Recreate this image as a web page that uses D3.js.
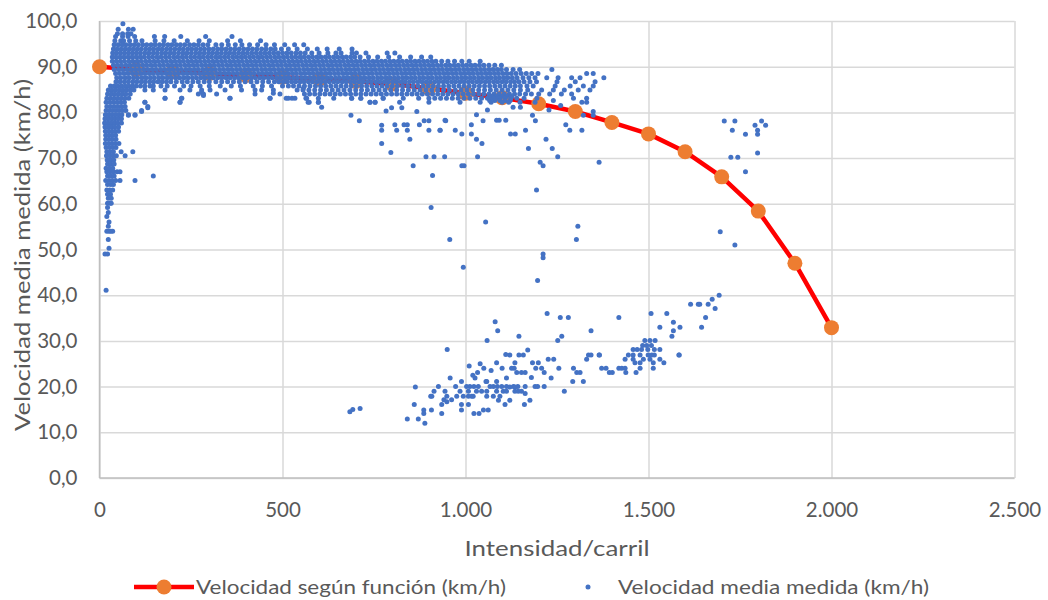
<!DOCTYPE html>
<meta charset="UTF-8">

<head>
    <title>Velocidad - Intensidad</title>
</head>
<style>
    body {
        margin: 0;
        background: #fff;
    }

    text {
        font-family: Lato, "Open Sans", sans-serif;
        fill: #595959;
    }
</style>

<body>
    <div id="chart"></div>

    <script src="https://cdn.jsdelivr.net/npm/d3@7"></script>
    <script>
        // curva de la función (cada 100 veh/h/carril)
        const fnFlow = [0, 100, 200, 300, 400, 500, 600, 700, 800, 900, 1000, 1100, 1200, 1300, 1400, 1500, 1600, 1700, 1800, 1900, 2000];
        const fnSpeed = [90, 89.4, 88.9, 88.5, 88.1, 87.7, 87.3, 86.8, 86.2, 85.3, 84.2, 83.2, 81.9, 80.2, 77.8, 75.3, 71.4, 65.9, 58.4, 47.0, 32.9];

        // banda de flujo libre: [velocidad, [intensidades]]
        const freeFlowRows = [
            [99.4, [64]],
            [98.2, [51, 79, 92]],
            [97.2, [49, 63, 77, 86]],
            [96.6, [44, 63, 78, 96, 150, 178, 222, 290, 362]],
            [95.7, [42, 58, 66, 82, 99, 116, 152, 176, 204, 240, 272, 300, 350, 385, 440]],
            [94.8, [40, 51, 62, 72, 84, 95, 106, 118, 129, 141, 152, 164, 175, 187, 198, 210, 221, 233, 246, 258, 270, 283, 296, 318, 334, 352, 371, 389, 410, 432, 455, 478, 506, 533, 558]],
            [93.9, [38, 48, 59, 70, 81, 92, 103, 114, 126, 137, 148, 160, 171, 183, 194, 206, 218, 229, 241, 252, 264, 276, 287, 299, 311, 323, 334, 346, 358, 370, 382, 394, 406, 418, 430, 443, 455, 468, 480, 497, 516, 540, 568, 595, 622, 655, 690]],
            [93.0, [36, 46, 57, 68, 79, 90, 101, 112, 124, 135, 147, 158, 170, 181, 193, 204, 216, 228, 239, 251, 263, 274, 286, 298, 309, 321, 333, 345, 356, 368, 380, 392, 404, 416, 428, 440, 452, 464, 476, 488, 500, 512, 524, 537, 549, 562, 580, 600, 624, 646, 660, 690, 702, 728, 786, 807]],
            [92.1, [35, 45, 56, 67, 78, 89, 100, 111, 122, 134, 145, 157, 168, 180, 191, 203, 214, 226, 237, 249, 260, 272, 283, 295, 306, 318, 329, 341, 352, 364, 375, 387, 398, 410, 421, 433, 444, 456, 467, 479, 490, 502, 513, 525, 536, 548, 559, 571, 582, 594, 605, 617, 628, 640, 651, 663, 674, 686, 697, 712, 735, 760, 790, 820, 850, 880, 905]],
            [91.2, [35, 46, 57, 68, 80, 91, 103, 114, 126, 137, 149, 160, 172, 183, 195, 206, 218, 229, 241, 252, 264, 275, 287, 298, 310, 321, 333, 344, 356, 367, 379, 390, 402, 413, 425, 436, 448, 459, 471, 482, 494, 505, 517, 528, 540, 551, 563, 574, 586, 597, 609, 620, 632, 643, 655, 666, 678, 689, 701, 712, 724, 735, 747, 758, 770, 781, 793, 804, 816, 827, 839, 850, 862, 873, 885, 896, 908, 919, 935, 952, 970, 990, 1010, 1040]],
            [90.3, [38, 49, 60, 72, 83, 95, 106, 118, 129, 141, 152, 164, 175, 187, 198, 210, 221, 233, 244, 256, 267, 279, 290, 302, 313, 325, 336, 348, 359, 371, 382, 394, 405, 417, 428, 440, 451, 463, 474, 486, 497, 509, 520, 532, 543, 555, 566, 578, 589, 601, 612, 624, 635, 647, 658, 670, 681, 693, 704, 716, 727, 739, 750, 762, 773, 785, 796, 808, 819, 831, 842, 854, 865, 877, 888, 900, 911, 923, 934, 946, 957, 969, 980, 992, 1003, 1015, 1026, 1038, 1050, 1064, 1080, 1098]],
            [89.4, [40, 52, 63, 75, 86, 98, 109, 121, 132, 144, 155, 167, 178, 190, 201, 213, 224, 236, 247, 259, 270, 282, 293, 305, 316, 328, 339, 351, 362, 374, 385, 397, 408, 420, 431, 443, 454, 466, 477, 489, 500, 512, 523, 535, 546, 558, 569, 581, 592, 604, 615, 627, 638, 650, 661, 673, 684, 696, 707, 719, 730, 742, 753, 765, 776, 788, 799, 811, 822, 834, 845, 857, 868, 880, 891, 903, 914, 926, 937, 949, 960, 972, 983, 995, 1006, 1018, 1029, 1041, 1052, 1064, 1075, 1087, 1098, 1112, 1130, 1148, 1236]],
            [88.5, [44, 55, 67, 78, 90, 101, 113, 124, 136, 147, 159, 170, 182, 193, 205, 216, 228, 239, 251, 262, 274, 285, 297, 308, 320, 331, 343, 354, 366, 377, 389, 400, 412, 423, 435, 446, 458, 469, 481, 492, 504, 515, 527, 538, 550, 561, 573, 584, 596, 607, 619, 630, 642, 653, 665, 676, 688, 699, 711, 722, 734, 745, 757, 768, 780, 791, 803, 814, 826, 837, 849, 860, 872, 883, 895, 906, 918, 929, 941, 952, 964, 975, 987, 998, 1010, 1021, 1033, 1044, 1056, 1067, 1079, 1090, 1102, 1113, 1125, 1138, 1152, 1166, 1181, 1198, 1331, 1349]],
            [87.6, [47, 58, 70, 81, 93, 104, 116, 127, 139, 150, 162, 173, 185, 196, 208, 219, 231, 242, 254, 265, 277, 288, 300, 311, 323, 334, 346, 357, 369, 380, 392, 403, 415, 426, 438, 449, 461, 472, 484, 495, 507, 518, 530, 541, 553, 564, 576, 587, 599, 610, 622, 633, 645, 656, 668, 679, 691, 702, 714, 725, 737, 748, 760, 771, 783, 794, 806, 817, 829, 840, 852, 863, 875, 886, 898, 909, 921, 932, 944, 955, 967, 978, 990, 1001, 1013, 1024, 1036, 1047, 1059, 1070, 1082, 1093, 1105, 1116, 1128, 1141, 1157, 1173, 1190, 1222, 1253, 1290, 1313, 1378]],
            [86.7, [45, 56, 68, 79, 91, 102, 114, 125, 137, 148, 160, 171, 183, 195, 210, 226, 240, 255, 270, 286, 300, 318, 334, 350, 366, 382, 398, 414, 430, 446, 462, 478, 490, 502, 513, 525, 536, 548, 559, 571, 582, 594, 605, 617, 628, 640, 651, 663, 674, 686, 697, 709, 720, 732, 743, 755, 766, 778, 789, 801, 812, 824, 835, 847, 858, 870, 881, 893, 904, 916, 927, 939, 950, 962, 973, 985, 996, 1008, 1019, 1031, 1042, 1054, 1065, 1077, 1088, 1100, 1111, 1123, 1134, 1146, 1160, 1176, 1194, 1250, 1300, 1354]],
            [85.8, [30, 40, 50, 60, 70, 80, 90, 100, 112, 124, 138, 147, 168, 185, 205, 230, 250, 275, 300, 330, 360, 385, 420, 445, 470, 500, 516, 530, 545, 560, 575, 590, 604, 618, 632, 646, 660, 674, 688, 702, 716, 730, 744, 758, 772, 786, 800, 814, 828, 842, 856, 870, 884, 898, 912, 926, 940, 954, 968, 982, 996, 1010, 1024, 1038, 1052, 1066, 1080, 1094, 1108, 1122, 1136, 1150, 1168, 1185, 1245, 1286, 1322, 1349]],
            [84.9, [24, 34, 44, 54, 64, 74, 84, 94, 124, 147, 179, 220, 247, 279, 302, 343, 388, 425, 443, 475, 540, 556, 572, 588, 604, 620, 636, 652, 668, 684, 700, 716, 732, 748, 764, 780, 796, 812, 828, 844, 860, 876, 892, 908, 924, 940, 956, 972, 988, 1004, 1020, 1036, 1052, 1068, 1084, 1100, 1116, 1132, 1150, 1170, 1208, 1240, 1270, 1308, 1340]],
            [84.0, [22, 32, 42, 52, 62, 72, 84, 270, 284, 320, 425, 493, 560, 574, 588, 602, 616, 630, 644, 658, 672, 686, 700, 714, 728, 742, 756, 770, 784, 798, 812, 826, 840, 854, 868, 882, 896, 910, 924, 938, 952, 966, 980, 994, 1008, 1022, 1036, 1050, 1064, 1078, 1092, 1106, 1120, 1134, 1148, 1164, 1180, 1200, 1230, 1262, 1290]],
            [83.5, [1070, 1084, 1098, 1112, 1126]],
            [83.1, [20, 30, 40, 50, 60, 70, 80, 179, 225, 357, 466, 510, 526, 566, 598, 640, 689, 714, 775, 830, 872, 900, 916, 932, 948, 964, 980, 996, 1012, 1028, 1044, 1060, 1076, 1092, 1108, 1124, 1140, 1160, 1195, 1295, 1331]],
            [82.6, [1066, 1080, 1094, 1108, 1122]],
            [82.2, [18, 28, 38, 48, 58, 68, 124, 220, 570, 598, 739, 753, 820, 900, 985, 1040, 1070, 1100, 1118, 1149, 1190, 1318, 1331]]
        ];

        // columna de baja intensidad: [velocidad, [intensidades]]
        const lowFlowRows = [
            [81.3, [20, 30, 40, 50, 60, 70, 132]],
            [80.4, [18, 27, 36, 45, 54, 63, 72, 115]],
            [79.5, [16, 25, 34, 43, 52, 61, 79, 97]],
            [78.6, [15, 24, 33, 42, 51, 60]],
            [77.7, [14, 23, 32, 41, 50, 60]],
            [76.8, [15, 24, 33, 42, 52]],
            [75.9, [16, 25, 34, 43, 52]],
            [75.0, [17, 26, 35, 44]],
            [74.1, [17, 26, 35, 45]],
            [73.2, [16, 25, 34, 43, 53]],
            [72.3, [18, 27, 36, 45]],
            [71.4, [20, 29, 38, 59, 91]],
            [70.5, [19, 28, 37, 46, 70]],
            [69.6, [21, 30, 39]],
            [68.7, [22, 31, 40]],
            [67.8, [18, 27, 36]],
            [67.0, [20, 29, 38, 48, 56]],
            [66.1, [22, 31, 40, 147]],
            [65.1, [17, 26, 35, 44, 56, 97]],
            [64.2, [22, 31, 38]],
            [63.0, [20, 28, 36]],
            [62.1, [22, 30]],
            [61.2, [24, 32]],
            [60.1, [22, 29, 32]],
            [59.2, [22]],
            [58.1, [24]],
            [57.2, [20]],
            [56.0, [26]],
            [55.1, [24]],
            [54.0, [20, 26, 31, 36]],
            [52.2, [24]],
            [50.3, [26]],
            [49.0, [15, 22]],
            [41.1, [18]]
        ];

        // puntos dispersos bajo la banda [intensidad, velocidad]
        const scatterBelow = [
            [179, 83.1], [224, 83.1], [220, 82.2], [279, 84.4], [284, 83.7], [356, 83.1], [466, 83.1], [124, 82.2], [97, 79.4], [115, 80.2], [132, 81.0], [79, 79.4],
            [475, 84.2], [516, 83.1], [534, 83.1], [557, 85.3], [564, 83.1], [573, 82.2], [598, 82.2], [607, 81.1], [687, 79.4], [710, 78.2], [689, 83.1], [714, 83.1],
            [739, 82.2], [753, 82.2], [775, 83.1], [783, 80.3], [798, 81.0], [826, 81.0], [771, 77.2], [771, 76.1], [771, 73.2], [796, 71.2], [807, 77.3], [812, 76.1],
            [832, 77.3], [841, 77.3], [841, 76.1], [848, 74.1], [857, 68.3], [867, 80.2], [874, 77.3], [887, 78.2], [900, 78.2], [900, 76.1], [892, 70.3], [914, 70.3],
            [943, 70.3], [910, 66.2], [906, 59.2], [931, 76.1], [946, 78.2], [957, 52.2], [972, 76.1], [990, 75.3], [990, 68.3], [996, 68.3], [994, 46.1], [1016, 77.3],
            [1016, 75.3], [1030, 74.1], [1033, 70.3], [1045, 73.2], [1048, 78.2], [1055, 56.0], [1085, 78.3], [1092, 78.3], [1110, 78.3], [1123, 75.3], [1136, 75.3],
            [1164, 76.1], [1172, 72.1], [1183, 79.4], [1191, 78.2], [1194, 63.0], [1204, 69.1], [1212, 68.3], [1197, 43.2], [1212, 49.0], [1212, 48.2], [1220, 74.1],
            [1228, 80.5], [1237, 72.1], [1252, 70.3], [1274, 77.3], [1285, 76.1], [1307, 55.1], [1303, 52.2], [1318, 76.1], [1322, 79.4], [1349, 80.2], [1349, 79.4],
            [1365, 69.1], [944, 78.3], [930, 76.1], [1030, 79.5], [1060, 80.5], [1150, 81.1], [1130, 81.1], [1240, 82.6], [1260, 81.5]
        ];

        // rama congestionada [intensidad, velocidad]
        const congested = [
            [684, 14.5], [692, 15.0], [712, 15.2],
            [1693, 40.0], [1674, 39.1], [1663, 38.0], [1640, 38.0], [1636, 38.0], [1615, 38.0], [1682, 37.1], [1656, 35.1], [1645, 33.0], [1507, 36.0], [1550, 36.0],
            [1419, 35.1], [1531, 33.0], [1568, 34.1], [1586, 33.0], [1568, 32.2], [1564, 31.0], [1584, 26.9],
            [1490, 30.1], [1504, 30.1], [1518, 30.1], [1484, 29.0], [1495, 29.0], [1508, 29.0], [1458, 28.1], [1469, 28.1], [1481, 28.1], [1498, 28.1], [1516, 28.1],
            [1531, 28.1], [1445, 26.9], [1458, 26.9], [1477, 26.9], [1499, 26.9], [1509, 26.9], [1516, 26.9], [1436, 26.0], [1458, 26.0], [1486, 26.0], [1504, 26.0],
            [1531, 26.0], [1542, 25.2], [1463, 25.2], [1477, 25.2], [1513, 25.2], [1513, 24.0], [1477, 24.0], [1466, 23.1], [1438, 23.1], [1419, 24.0], [1427, 24.0],
            [1436, 24.0], [1393, 23.1], [1401, 23.1], [1372, 24.0], [1384, 24.0], [1331, 26.0], [1336, 26.9], [1343, 26.9], [1366, 26.9], [1343, 32.2], [1295, 24.0],
            [1304, 23.1], [1313, 23.1], [1293, 21.1], [1322, 21.1], [1270, 19.0], [1255, 24.0], [1234, 21.9], [1252, 30.1], [1263, 31.0], [1226, 26.0], [1241, 26.0],
            [1259, 35.1], [1281, 35.1], [1223, 36.0], [1146, 31.0], [1088, 32.2], [1081, 34.2], [1059, 30.1], [1121, 26.9], [1146, 26.9], [1158, 26.9], [1085, 25.2],
            [1135, 25.2], [1133, 24.0], [1126, 24.0], [1183, 25.2], [1199, 25.2], [1192, 24.0], [1033, 23.1], [1050, 24.0], [1026, 21.9], [1058, 21.1], [1085, 21.1],
            [1112, 21.9], [1140, 23.1], [1153, 23.1], [1163, 23.1], [1208, 24.0], [1215, 23.1],
            [989, 21.1], [1003, 20.0], [1012, 20.0], [1023, 20.0], [1035, 20.0], [1056, 21.1], [1067, 20.0], [1076, 20.0], [1087, 20.0], [1099, 20.0], [1112, 20.0],
            [1131, 20.0], [1143, 20.0], [1163, 20.0], [1190, 20.0], [1197, 20.0], [1215, 20.0], [973, 20.0], [958, 21.9],
            [926, 20.0], [914, 19.0], [905, 17.9], [908, 17.9], [944, 19.0], [949, 17.9], [976, 17.9], [962, 17.1], [949, 16.7], [941, 17.1], [935, 16.1],
            [1008, 19.0], [1017, 17.9], [985, 19.0], [994, 17.9], [1008, 17.9], [1021, 17.9], [1030, 19.0], [1044, 19.0], [1058, 19.0], [1058, 17.9], [1076, 17.9],
            [1085, 19.0], [1103, 19.0], [1112, 19.0], [1121, 19.9], [1135, 19.9], [1144, 19.0], [1153, 19.0], [1163, 18.5], [1094, 17.9], [1090, 17.0], [1108, 16.1],
            [1121, 17.0], [1135, 19.0], [1161, 16.1], [1176, 17.0],
            [989, 16.1], [989, 14.9], [1008, 16.1], [1023, 14.1], [1037, 14.1], [1049, 14.9], [1062, 14.9], [935, 14.1], [907, 14.9], [886, 14.9], [886, 14.1],
            [889, 12.0], [871, 12.9], [841, 12.9], [860, 16.1], [863, 19.9], [950, 28.1], [1365, 26.9], [1583, 26.9], [1020, 22.5], [1040, 25.0], [1070, 23.5],
            [1100, 24.0], [1110, 27.0], [1170, 28.0], [1180, 22.0], [1010, 24.5]
        ];

        // grupo superior derecho [intensidad, velocidad]
        const upperRight = [
            [1707, 78.1], [1736, 78.1], [1729, 76.1], [1765, 75.2], [1791, 77.2], [1809, 78.1], [1820, 77.2], [1798, 76.1], [1798, 75.2], [1725, 70.2], [1744, 70.2],
            [1798, 71.1], [1765, 67.0], [1696, 53.9], [1736, 51.0]
        ];

        const xTicks = [0, 500, 1000, 1500, 2000, 2500];
        const yTicks = [0, 10, 20, 30, 40, 50, 60, 70, 80, 90, 100];

        const w = 1048;
        const h = 600;
        const plotL = 99.5, plotR = 1014.5, plotT = 21, plotB = 478;

        const es = d3.formatLocale({ decimal: ",", thousands: ".", grouping: [3], currency: ["", "€"] });
        const fmtY = es.format(".1f");
        const fmtX = es.format(",");

        const x = d3.scaleLinear().domain([0, 2500]).range([plotL, plotR]);
        const y = d3.scaleLinear().domain([0, 100]).range([plotB, plotT]);

        // juntar todos los puntos medidos
        let measured = [];
        freeFlowRows.concat(lowFlowRows).forEach(r => r[1].forEach(q => measured.push([q, r[0]])));
        measured = measured.concat(scatterBelow, congested, upperRight);

        const svg = d3.select("#chart").append("svg")
            .attr("width", w)
            .attr("height", h);

        // rejilla
        svg.append("g")
            .attr("transform", `translate(${plotL},0)`)
            .call(d3.axisLeft(y).tickValues(yTicks).tickSize(-(plotR - plotL)).tickFormat(fmtY).tickPadding(22))
            .call(g => g.select(".domain").remove())
            .call(g => g.selectAll(".tick line").attr("stroke", "#d9d9d9").attr("stroke-width", 1.5))
            .call(g => g.selectAll(".tick text").attr("font-size", 20.5).attr("fill", "#595959").attr("font-family", "Lato"));

        svg.append("g")
            .attr("transform", `translate(0,${plotB})`)
            .call(d3.axisBottom(x).tickValues(xTicks).tickSize(-(plotB - plotT)).tickFormat(fmtX).tickPadding(24))
            .call(g => g.select(".domain").remove())
            .call(g => g.selectAll(".tick line").attr("stroke", "#d9d9d9").attr("stroke-width", 1.5))
            .call(g => g.selectAll(".tick text").attr("font-size", 20.5).attr("fill", "#595959").attr("font-family", "Lato"));

        // ejes
        svg.append("line").attr("x1", plotL).attr("x2", plotR).attr("y1", plotB).attr("y2", plotB)
            .attr("stroke", "#bfbfbf").attr("stroke-width", 1.5);
        svg.append("line").attr("x1", plotL).attr("x2", plotL).attr("y1", plotT).attr("y2", plotB)
            .attr("stroke", "#bfbfbf").attr("stroke-width", 1.5);

        // serie de la función
        const fnData = fnFlow.map((q, i) => [q, fnSpeed[i]]);
        svg.append("path")
            .datum(fnData)
            .attr("fill", "none")
            .attr("stroke", "#ff0000")
            .attr("stroke-width", 4.5)
            .attr("stroke-linejoin", "round")
            .attr("d", d3.line().x(d => x(d[0])).y(d => y(d[1])));

        svg.append("g").selectAll("circle")
            .data(fnData)
            .enter()
            .append("circle")
            .attr("cx", d => x(d[0]))
            .attr("cy", d => y(d[1]))
            .attr("r", 7.5)
            .attr("fill", "#ed7d31");

        // puntos medidos
        svg.append("g").selectAll("circle")
            .data(measured)
            .enter()
            .append("circle")
            .attr("cx", d => x(d[0]))
            .attr("cy", d => y(d[1]))
            .attr("r", 2.5)
            .attr("fill", "#4472c4");

        // títulos de ejes
        svg.append("text")
            .attr("x", (plotL + plotR) / 2)
            .attr("y", 556)
            .attr("text-anchor", "middle")
            .attr("font-size", 22)
            .attr("textLength", 185)
            .attr("lengthAdjust", "spacingAndGlyphs")
            .text("Intensidad/carril");

        svg.append("text")
            .attr("transform", "translate(30,255) rotate(-90)")
            .attr("text-anchor", "middle")
            .attr("font-size", 21)
            .attr("textLength", 352)
            .attr("lengthAdjust", "spacingAndGlyphs")
            .text("Velocidad media medida (km/h)");

        // leyenda
        const lg = svg.append("g").attr("transform", "translate(0,587)");
        lg.append("line").attr("x1", 134).attr("x2", 194).attr("stroke", "#ff0000").attr("stroke-width", 4.5);
        lg.append("circle").attr("cx", 164).attr("r", 7.5).attr("fill", "#ed7d31");
        lg.append("text").attr("x", 196).attr("dy", "0.35em").attr("font-size", 20)
            .attr("textLength", 310).attr("lengthAdjust", "spacingAndGlyphs")
            .text("Velocidad según función (km/h)");
        lg.append("circle").attr("cx", 588).attr("r", 2.5).attr("fill", "#4472c4");
        lg.append("text").attr("x", 618).attr("dy", "0.35em").attr("font-size", 20)
            .attr("textLength", 311).attr("lengthAdjust", "spacingAndGlyphs")
            .text("Velocidad media medida (km/h)");
    </script>
</body>

</html>
